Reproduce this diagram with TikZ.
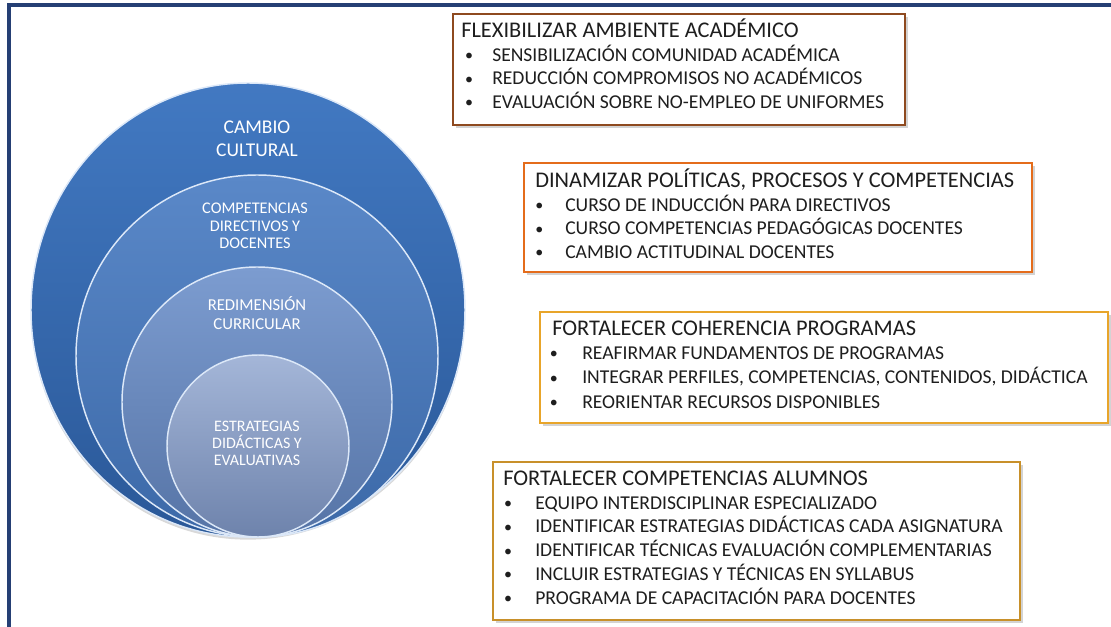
\documentclass[tikz,border=0pt]{standalone}
\usepackage{fontspec}
\setmainfont{Carlito}
\usetikzlibrary{positioning, shadows}
\definecolor{framenavy}{HTML}{253F74}
\definecolor{rimblue}{HTML}{DCE8F8}
\definecolor{flexbrown}{HTML}{8E4A1F}
\definecolor{dinorange}{HTML}{E46C1B}
\definecolor{cohgold}{HTML}{E8A52A}
\definecolor{alumgold}{HTML}{C8902A}
\definecolor{inktext}{HTML}{1E1E1E}
\definecolor{outtop}{HTML}{4279C2}
\definecolor{outbot}{HTML}{2A5898}
\definecolor{sectop}{HTML}{5A88C8}
\definecolor{secbot}{HTML}{3C69A8}
\definecolor{thitop}{HTML}{7C9CD0}
\definecolor{thibot}{HTML}{5674A6}
\definecolor{inntop}{HTML}{A4B6D8}
\definecolor{innbot}{HTML}{6E83AC}
\tikzset{
  x=0.75pt, y=-0.75pt,
  frame/.style={draw=framenavy, line width=2.4pt},
  ring/.style={draw=rimblue, line width=1.1pt},
  ringtxt/.style={text=white, align=center, inner sep=0,
    font=\fontsize{12.2}{13}\selectfont},
  planbox/.style={draw=#1, line width=2.2pt, fill=white,
    drop shadow={shadow xshift=2pt, shadow yshift=-2pt, opacity=.35, fill=gray}},
  boxtitle/.style={anchor=west, inner sep=0, text=inktext,
    text height=0.65em, text depth=0pt, font=\fontsize{16.8}{18}\selectfont},
  boxitem/.style={anchor=west, inner sep=0, text=inktext,
    text height=0.65em, text depth=0pt, font=\fontsize{14.7}{16}\selectfont},
  bul/.style={inner sep=0, text=inktext, font=\fontsize{12}{13}\selectfont},
}
\begin{document}
\begin{tikzpicture}
  \useasboundingbox (0,0) rectangle (1111,627);
  \draw[frame] (9,627) -- (9,5) -- (1111,5);

  % nested circles
  \shade[ring, top color=outtop, bottom color=outbot,
    drop shadow={shadow xshift=0pt, shadow yshift=-2pt, opacity=.3}]
    (248,310) ellipse [x radius=217, y radius=227];
  \shade[ring, top color=sectop, bottom color=secbot]
    (257,356) circle [radius=181];
  \shade[ring, top color=thitop, bottom color=thibot]
    (257,402) circle [radius=135];
  \shade[ring, top color=inntop, bottom color=innbot]
    (258,446) circle [radius=91];

  \node[ringtxt, font=\fontsize{14.6}{17.3}\selectfont] (cultural) at (257,139) {CAMBIO\\CULTURAL};
  \node[ringtxt] (directivos) at (255,226) {COMPETENCIAS\\DIRECTIVOS Y\\DOCENTES};
  \node[ringtxt, font=\fontsize{12.5}{14.2}\selectfont] (curricular) at (257,313) {REDIMENSIÓN\\CURRICULAR};
  \node[ringtxt, font=\fontsize{12}{12.8}\selectfont] (estrategias) at (257,443) {ESTRATEGIAS\\DIDÁCTICAS Y\\EVALUATIVAS};

  % box 1
  \draw[planbox=flexbrown] (453,14) rectangle (905,125);
  \node[boxtitle] (flextit) at (461,33) {FLEXIBILIZAR AMBIENTE ACADÉMICO};
  \foreach \txt [count=\i] in {SENSIBILIZACIÓN COMUNIDAD ACADÉMICA,
      REDUCCIÓN COMPROMISOS NO ACADÉMICOS, EVALUACIÓN SOBRE NO-EMPLEO DE UNIFORMES}{
    \node[boxitem] (flex\i) at (492,{33+23.7*\i}) {\txt};
    \node[bul, left=14pt of flex\i] (flexb\i) {\textbullet};
  }

  % box 2
  \draw[planbox=dinorange] (524,163) rectangle (1032,272);
  \node[boxtitle] (dintit) at (535,183) {DINAMIZAR POLÍTICAS, PROCESOS Y COMPETENCIAS};
  \foreach \txt [count=\i] in {CURSO DE INDUCCIÓN PARA DIRECTIVOS,
      CURSO COMPETENCIAS PEDAGÓGICAS DOCENTES, CAMBIO ACTITUDINAL DOCENTES}{
    \node[boxitem] (din\i) at (565,{183+23.7*\i}) {\txt};
    \node[bul, left=16pt of din\i] (dinb\i) {\textbullet};
  }

  % box 3
  \draw[planbox=cohgold] (540,312) rectangle (1108,423);
  \node[boxtitle] (cohtit) at (552,331) {FORTALECER COHERENCIA PROGRAMAS};
  \foreach \txt [count=\i] in {REAFIRMAR FUNDAMENTOS DE PROGRAMAS,
      {INTEGRAR PERFILES, COMPETENCIAS, CONTENIDOS, DIDÁCTICA}, REORIENTAR RECURSOS DISPONIBLES}{
    \node[boxitem] (coh\i) at (582,{331+24.3*\i}) {\txt};
    \node[bul, left=18pt of coh\i] (cohb\i) {\textbullet};
  }

  % box 4
  \draw[planbox=alumgold] (493,462) rectangle (1020,620);
  \node[boxtitle] (alumtit) at (503,481) {FORTALECER COMPETENCIAS ALUMNOS};
  \foreach \txt [count=\i] in {EQUIPO INTERDISCIPLINAR ESPECIALIZADO,
      IDENTIFICAR ESTRATEGIAS DIDÁCTICAS CADA ASIGNATURA,
      IDENTIFICAR TÉCNICAS EVALUACIÓN COMPLEMENTARIAS,
      INCLUIR ESTRATEGIAS Y TÉCNICAS EN SYLLABUS,
      PROGRAMA DE CAPACITACIÓN PARA DOCENTES}{
    \node[boxitem] (alum\i) at (535,{481+23.8*\i}) {\txt};
    \node[bul, left=17pt of alum\i] (alumb\i) {\textbullet};
  }
\end{tikzpicture}
\end{document}
